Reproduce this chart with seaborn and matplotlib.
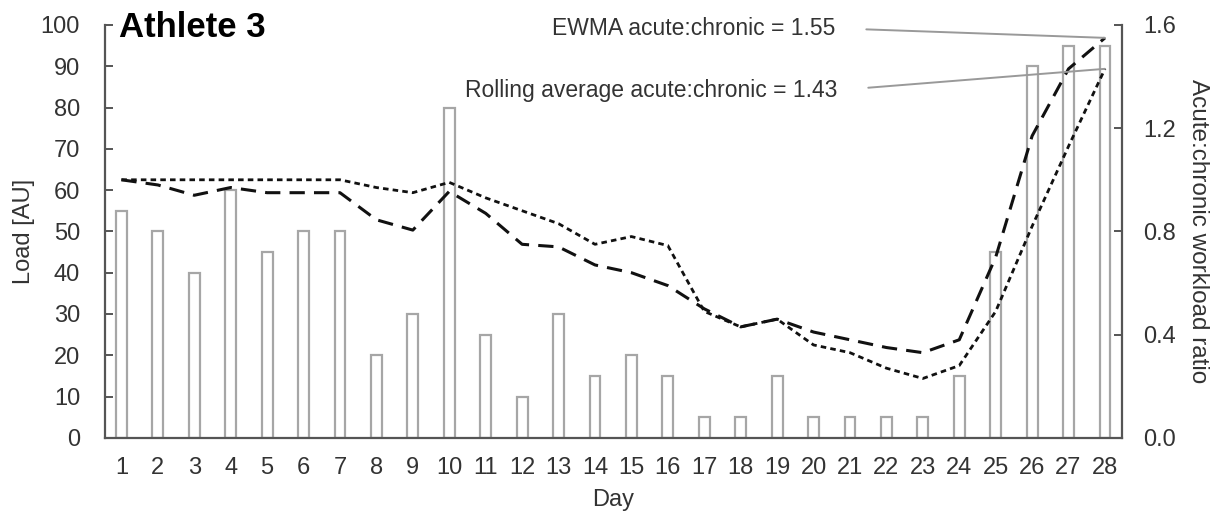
import numpy as np
import pandas as pd
import matplotlib
matplotlib.use("Agg")
import matplotlib.pyplot as plt
import seaborn as sns

# ─────────────────────────────────────────
# DATA
# ─────────────────────────────────────────
days = list(range(1, 29))
load = [55, 50, 40, 60, 45, 50, 50, 20, 30, 80, 25, 10, 30, 15,
        20, 15, 5, 5, 15, 5, 5, 5, 5, 15, 45, 90, 95, 95]
ewma_ratio = [1.00, 0.98, 0.94, 0.97, 0.95, 0.95, 0.95, 0.845, 0.805, 0.955,
              0.87, 0.75, 0.74, 0.67, 0.64, 0.59, 0.50, 0.43, 0.46, 0.41,
              0.38, 0.35, 0.33, 0.38, 0.70, 1.17, 1.43, 1.55]
rolling_ratio = [1.00, 1.00, 1.00, 1.00, 1.00, 1.00, 1.00, 0.97, 0.95, 0.99,
                 0.93, 0.88, 0.83, 0.75, 0.78, 0.745, 0.49, 0.43, 0.46, 0.36,
                 0.33, 0.27, 0.23, 0.28, 0.49, 0.82, 1.13, 1.43]

df = pd.DataFrame({"day": days, "load": load,
                   "ewma": ewma_ratio, "rolling": rolling_ratio})
df["pos"] = np.arange(len(df))

# ─────────────────────────────────────────
# STYLE
# ─────────────────────────────────────────
sns.set_style("white")
plt.rcParams["font.family"] = ["Liberation Sans", "DejaVu Sans"]
TXT = "#333333"
SPINE = "#555555"

fig = plt.figure(figsize=(12.21, 5.2), dpi=100)
ax = fig.add_axes([0.086, 0.158, 0.833, 0.794])

# bars : load
sns.barplot(data=df, x="day", y="load", ax=ax, color="white",
            edgecolor="#a6a6a6", linewidth=1.6, width=0.3,
            order=days, errorbar=None)

# lines : acute:chronic ratios
ax2 = ax.twinx()
sns.lineplot(data=df, x="pos", y="ewma", ax=ax2, color="#111111",
             linewidth=2.2, linestyle=(0, (5, 3)))
sns.lineplot(data=df, x="pos", y="rolling", ax=ax2, color="#111111",
             linewidth=2.0, linestyle=(0, (2, 1.5)))

ax.set_xlim(-0.45, len(days) - 0.53)
ax.set_ylim(0, 100)
ax.set_yticks(range(0, 101, 10))
ax2.set_ylim(0, 1.6)
ax2.set_yticks([0.0, 0.4, 0.8, 1.2, 1.6])
ax2.set_yticklabels([f"{v:.1f}" for v in [0.0, 0.4, 0.8, 1.2, 1.6]])

for a in (ax, ax2):
    a.spines["top"].set_visible(False)
    for s in ("left", "right", "bottom"):
        a.spines[s].set_color(SPINE)
        a.spines[s].set_linewidth(1.6)
ax.spines["right"].set_visible(False)
ax2.spines["left"].set_visible(False)
ax2.spines["bottom"].set_visible(False)

ax.tick_params(axis="y", direction="in", length=6, width=1.4, color=SPINE,
               labelsize=17, labelcolor=TXT, pad=18)
ax.tick_params(axis="x", length=0, labelsize=17, labelcolor=TXT, pad=14)
ax2.tick_params(axis="y", direction="in", length=6, width=1.4, color=SPINE,
                labelsize=17, labelcolor=TXT, pad=15)

ax.set_xlabel("Day", fontsize=17, color=TXT, labelpad=7)
ax.set_ylabel("Load [AU]", fontsize=17, color=TXT, labelpad=4)
ax2.set_ylabel("Acute:chronic workload ratio", fontsize=17.5, color=TXT,
               rotation=270, labelpad=24)
ax2.set_xlabel("")

ax.text(0.014, 0.995, "Athlete 3", transform=ax.transAxes, fontsize=25,
        fontweight="bold", color="black", va="center", ha="left")

last = df["pos"].iloc[-1]
ax2.annotate(f"EWMA acute:chronic = {ewma_ratio[-1]:.2f}",
             xy=(last, ewma_ratio[-1]), xytext=(0.718, 0.992),
             textcoords="axes fraction", ha="right", va="center",
             fontsize=16.5, color=TXT,
             arrowprops=dict(arrowstyle="-", color="#999999", lw=1.4,
                             relpos=(1, 0.5), shrinkA=20, shrinkB=0))
ax2.annotate(f"Rolling average acute:chronic = {rolling_ratio[-1]:.2f}",
             xy=(last, rolling_ratio[-1]), xytext=(0.72, 0.842),
             textcoords="axes fraction", ha="right", va="center",
             fontsize=16.5, color=TXT,
             arrowprops=dict(arrowstyle="-", color="#999999", lw=1.4,
                             relpos=(1, 0.5), shrinkA=20, shrinkB=0))

fig.savefig("out.png", dpi=100)
plt.close(fig)
